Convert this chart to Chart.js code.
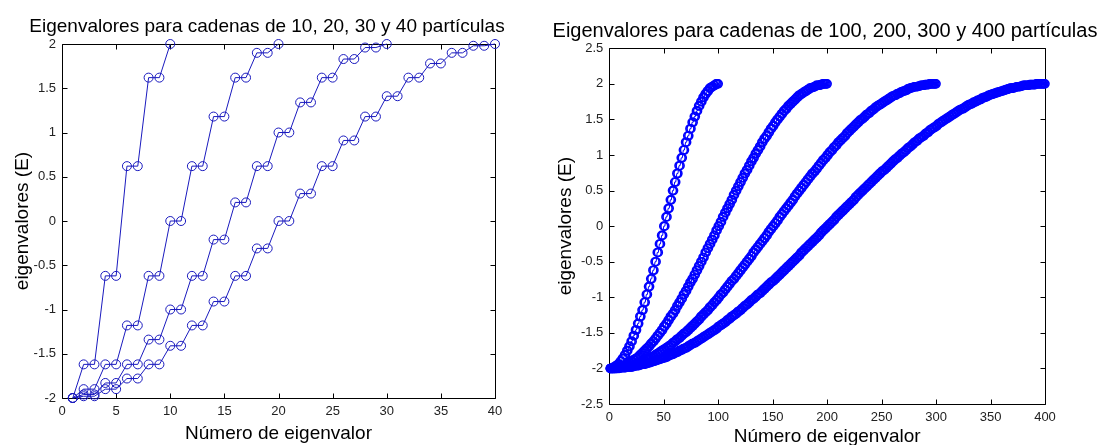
<!DOCTYPE html>
<html>
<head>
<meta charset="utf-8">
<script src="https://cdn.jsdelivr.net/npm/chart.js@4.4.1/dist/chart.umd.min.js"></script>
<style>
  body { margin: 0; background: #fff; }
  #left { position: absolute; left: 0; top: 0; }
  #right { position: absolute; left: 545px; top: 0; }
</style>
</head>
<body>
<canvas id="left" width="545" height="445"></canvas>
<canvas id="right" width="554" height="445"></canvas>
<script>
// eigenvalues, chains of 10, 20, 30, 40 particles (left panel)
const n10 = [-2, -1.62, -1.62, -0.62, -0.62, 0.62, 0.62, 1.62, 1.62, 2];
const n20 = [-2, -1.9, -1.9, -1.62, -1.62, -1.18, -1.18, -0.62, -0.62, 0, 0,
  0.62, 0.62, 1.18, 1.18, 1.62, 1.62, 1.9, 1.9, 2];
const n30 = [-2, -1.96, -1.96, -1.83, -1.83, -1.62, -1.62, -1.34, -1.34, -1, -1,
  -0.62, -0.62, -0.21, -0.21, 0.21, 0.21, 0.62, 0.62, 1, 1, 1.34, 1.34,
  1.62, 1.62, 1.83, 1.83, 1.96, 1.96, 2];
const n40 = [-2, -1.98, -1.98, -1.9, -1.9, -1.78, -1.78, -1.62, -1.62, -1.41, -1.41,
  -1.18, -1.18, -0.91, -0.91, -0.62, -0.62, -0.31, -0.31, 0, 0, 0.31, 0.31,
  0.62, 0.62, 0.91, 0.91, 1.18, 1.18, 1.41, 1.41, 1.62, 1.62, 1.78, 1.78,
  1.9, 1.9, 1.98, 1.98, 2];

// eigenvalues, chains of 100, 200, 300, 400 particles (right panel)
const n100 = [-2,
  -2,-2, -1.98,-1.98, -1.96,-1.96, -1.94,-1.94, -1.9,-1.9, -1.86,-1.86, -1.81,-1.81, -1.75,-1.75, -1.69,-1.69, -1.62,-1.62,
  -1.54,-1.54, -1.46,-1.46, -1.37,-1.37, -1.27,-1.27, -1.18,-1.18, -1.07,-1.07, -0.96,-0.96, -0.85,-0.85, -0.74,-0.74, -0.62,-0.62,
  -0.5,-0.5, -0.37,-0.37, -0.25,-0.25, -0.13,-0.13, 0,0,
  0.13,0.13, 0.25,0.25, 0.37,0.37, 0.5,0.5, 0.62,0.62, 0.74,0.74, 0.85,0.85, 0.96,0.96, 1.07,1.07, 1.18,1.18,
  1.27,1.27, 1.37,1.37, 1.46,1.46, 1.54,1.54, 1.62,1.62, 1.69,1.69, 1.75,1.75, 1.81,1.81, 1.86,1.86, 1.9,1.9,
  1.94,1.94, 1.96,1.96, 1.98,1.98, 2,2,
  2];

const n200 = [-2,
  -2,-2, -2,-2, -1.99,-1.99, -1.98,-1.98, -1.98,-1.98, -1.96,-1.96, -1.95,-1.95, -1.94,-1.94, -1.92,-1.92, -1.9,-1.9,
  -1.88,-1.88, -1.86,-1.86, -1.84,-1.84, -1.81,-1.81, -1.78,-1.78, -1.75,-1.75, -1.72,-1.72, -1.69,-1.69, -1.65,-1.65, -1.62,-1.62,
  -1.58,-1.58, -1.54,-1.54, -1.5,-1.5, -1.46,-1.46, -1.41,-1.41, -1.37,-1.37, -1.32,-1.32, -1.27,-1.27, -1.23,-1.23, -1.18,-1.18,
  -1.12,-1.12, -1.07,-1.07, -1.02,-1.02, -0.96,-0.96, -0.91,-0.91, -0.85,-0.85, -0.79,-0.79, -0.74,-0.74, -0.68,-0.68, -0.62,-0.62,
  -0.56,-0.56, -0.5,-0.5, -0.44,-0.44, -0.37,-0.37, -0.31,-0.31, -0.25,-0.25, -0.19,-0.19, -0.13,-0.13, -0.06,-0.06, 0,0,
  0.06,0.06, 0.13,0.13, 0.19,0.19, 0.25,0.25, 0.31,0.31, 0.37,0.37, 0.44,0.44, 0.5,0.5, 0.56,0.56, 0.62,0.62,
  0.68,0.68, 0.74,0.74, 0.79,0.79, 0.85,0.85, 0.91,0.91, 0.96,0.96, 1.02,1.02, 1.07,1.07, 1.12,1.12, 1.18,1.18,
  1.23,1.23, 1.27,1.27, 1.32,1.32, 1.37,1.37, 1.41,1.41, 1.46,1.46, 1.5,1.5, 1.54,1.54, 1.58,1.58, 1.62,1.62,
  1.65,1.65, 1.69,1.69, 1.72,1.72, 1.75,1.75, 1.78,1.78, 1.81,1.81, 1.84,1.84, 1.86,1.86, 1.88,1.88, 1.9,1.9,
  1.92,1.92, 1.94,1.94, 1.95,1.95, 1.96,1.96, 1.98,1.98, 1.98,1.98, 1.99,1.99, 2,2, 2,2,
  2];

const n300 = [-2,
  -2,-2, -2,-2, -2,-2, -1.99,-1.99, -1.99,-1.99, -1.98,-1.98, -1.98,-1.98, -1.97,-1.97, -1.96,-1.96, -1.96,-1.96,
  -1.95,-1.95, -1.94,-1.94, -1.93,-1.93, -1.91,-1.91, -1.9,-1.9, -1.89,-1.89, -1.87,-1.87, -1.86,-1.86, -1.84,-1.84, -1.83,-1.83,
  -1.81,-1.81, -1.79,-1.79, -1.77,-1.77, -1.75,-1.75, -1.73,-1.73, -1.71,-1.71, -1.69,-1.69, -1.67,-1.67, -1.64,-1.64, -1.62,-1.62,
  -1.59,-1.59, -1.57,-1.57, -1.54,-1.54, -1.51,-1.51, -1.49,-1.49, -1.46,-1.46, -1.43,-1.43, -1.4,-1.4, -1.37,-1.37, -1.34,-1.34,
  -1.31,-1.31, -1.27,-1.27, -1.24,-1.24, -1.21,-1.21, -1.18,-1.18, -1.14,-1.14, -1.11,-1.11, -1.07,-1.07, -1.04,-1.04, -1,-1,
  -0.96,-0.96, -0.93,-0.93, -0.89,-0.89, -0.85,-0.85, -0.81,-0.81, -0.77,-0.77, -0.74,-0.74, -0.7,-0.7, -0.66,-0.66, -0.62,-0.62,
  -0.58,-0.58, -0.54,-0.54, -0.5,-0.5, -0.46,-0.46, -0.42,-0.42, -0.37,-0.37, -0.33,-0.33, -0.29,-0.29, -0.25,-0.25, -0.21,-0.21,
  -0.17,-0.17, -0.13,-0.13, -0.08,-0.08, -0.04,-0.04, 0,0,
  0.04,0.04, 0.08,0.08, 0.13,0.13, 0.17,0.17, 0.21,0.21, 0.25,0.25, 0.29,0.29, 0.33,0.33, 0.37,0.37, 0.42,0.42,
  0.46,0.46, 0.5,0.5, 0.54,0.54, 0.58,0.58, 0.62,0.62, 0.66,0.66, 0.7,0.7, 0.74,0.74, 0.77,0.77, 0.81,0.81,
  0.85,0.85, 0.89,0.89, 0.93,0.93, 0.96,0.96, 1,1, 1.04,1.04, 1.07,1.07, 1.11,1.11, 1.14,1.14, 1.18,1.18,
  1.21,1.21, 1.24,1.24, 1.27,1.27, 1.31,1.31, 1.34,1.34, 1.37,1.37, 1.4,1.4, 1.43,1.43, 1.46,1.46, 1.49,1.49,
  1.51,1.51, 1.54,1.54, 1.57,1.57, 1.59,1.59, 1.62,1.62, 1.64,1.64, 1.67,1.67, 1.69,1.69, 1.71,1.71, 1.73,1.73,
  1.75,1.75, 1.77,1.77, 1.79,1.79, 1.81,1.81, 1.83,1.83, 1.84,1.84, 1.86,1.86, 1.87,1.87, 1.89,1.89, 1.9,1.9,
  1.91,1.91, 1.93,1.93, 1.94,1.94, 1.95,1.95, 1.96,1.96, 1.96,1.96, 1.97,1.97, 1.98,1.98, 1.98,1.98, 1.99,1.99,
  1.99,1.99, 2,2, 2,2, 2,2,
  2];

const n400 = [-2,
  -2,-2, -2,-2, -2,-2, -2,-2, -1.99,-1.99, -1.99,-1.99, -1.99,-1.99, -1.98,-1.98, -1.98,-1.98, -1.98,-1.98,
  -1.97,-1.97, -1.96,-1.96, -1.96,-1.96, -1.95,-1.95, -1.94,-1.94, -1.94,-1.94, -1.93,-1.93, -1.92,-1.92, -1.91,-1.91, -1.9,-1.9,
  -1.89,-1.89, -1.88,-1.88, -1.87,-1.87, -1.86,-1.86, -1.85,-1.85, -1.84,-1.84, -1.82,-1.82, -1.81,-1.81, -1.8,-1.8, -1.78,-1.78,
  -1.77,-1.77, -1.75,-1.75, -1.74,-1.74, -1.72,-1.72, -1.71,-1.71, -1.69,-1.69, -1.67,-1.67, -1.65,-1.65, -1.64,-1.64, -1.62,-1.62,
  -1.6,-1.6, -1.58,-1.58, -1.56,-1.56, -1.54,-1.54, -1.52,-1.52, -1.5,-1.5, -1.48,-1.48, -1.46,-1.46, -1.44,-1.44, -1.41,-1.41,
  -1.39,-1.39, -1.37,-1.37, -1.35,-1.35, -1.32,-1.32, -1.3,-1.3, -1.27,-1.27, -1.25,-1.25, -1.23,-1.23, -1.2,-1.2, -1.18,-1.18,
  -1.15,-1.15, -1.12,-1.12, -1.1,-1.1, -1.07,-1.07, -1.04,-1.04, -1.02,-1.02, -0.99,-0.99, -0.96,-0.96, -0.94,-0.94, -0.91,-0.91,
  -0.88,-0.88, -0.85,-0.85, -0.82,-0.82, -0.79,-0.79, -0.77,-0.77, -0.74,-0.74, -0.71,-0.71, -0.68,-0.68, -0.65,-0.65, -0.62,-0.62,
  -0.59,-0.59, -0.56,-0.56, -0.53,-0.53, -0.5,-0.5, -0.47,-0.47, -0.44,-0.44, -0.41,-0.41, -0.37,-0.37, -0.34,-0.34, -0.31,-0.31,
  -0.28,-0.28, -0.25,-0.25, -0.22,-0.22, -0.19,-0.19, -0.16,-0.16, -0.13,-0.13, -0.09,-0.09, -0.06,-0.06, -0.03,-0.03, 0,0,
  0.03,0.03, 0.06,0.06, 0.09,0.09, 0.13,0.13, 0.16,0.16, 0.19,0.19, 0.22,0.22, 0.25,0.25, 0.28,0.28, 0.31,0.31,
  0.34,0.34, 0.37,0.37, 0.41,0.41, 0.44,0.44, 0.47,0.47, 0.5,0.5, 0.53,0.53, 0.56,0.56, 0.59,0.59, 0.62,0.62,
  0.65,0.65, 0.68,0.68, 0.71,0.71, 0.74,0.74, 0.77,0.77, 0.79,0.79, 0.82,0.82, 0.85,0.85, 0.88,0.88, 0.91,0.91,
  0.94,0.94, 0.96,0.96, 0.99,0.99, 1.02,1.02, 1.04,1.04, 1.07,1.07, 1.1,1.1, 1.12,1.12, 1.15,1.15, 1.18,1.18,
  1.2,1.2, 1.23,1.23, 1.25,1.25, 1.27,1.27, 1.3,1.3, 1.32,1.32, 1.35,1.35, 1.37,1.37, 1.39,1.39, 1.41,1.41,
  1.44,1.44, 1.46,1.46, 1.48,1.48, 1.5,1.5, 1.52,1.52, 1.54,1.54, 1.56,1.56, 1.58,1.58, 1.6,1.6, 1.62,1.62,
  1.64,1.64, 1.65,1.65, 1.67,1.67, 1.69,1.69, 1.71,1.71, 1.72,1.72, 1.74,1.74, 1.75,1.75, 1.77,1.77, 1.78,1.78,
  1.8,1.8, 1.81,1.81, 1.82,1.82, 1.84,1.84, 1.85,1.85, 1.86,1.86, 1.87,1.87, 1.88,1.88, 1.89,1.89, 1.9,1.9,
  1.91,1.91, 1.92,1.92, 1.93,1.93, 1.94,1.94, 1.94,1.94, 1.95,1.95, 1.96,1.96, 1.96,1.96, 1.97,1.97, 1.98,1.98,
  1.98,1.98, 1.98,1.98, 1.99,1.99, 1.99,1.99, 1.99,1.99, 2,2, 2,2, 2,2, 2,2,
  2];

const leftTicksX = [0, 40, 5];
const leftTicksY = [-2, 2, 0.5];
const rightTicksX = [0, 400, 50];
const rightTicksY = [-2.5, 2.5, 0.5];

const FONT = "'Liberation Sans', Arial, sans-serif";
Chart.defaults.font.family = FONT;
Chart.defaults.color = '#222';

// x = eigenvalue number (1..N)
function pts(arr) {
  return arr.map((v, i) => ({ x: i + 1, y: v }));
}

// matlab style box with inward ticks on all four sides
const boxTicks = {
  id: 'boxTicks',
  beforeDatasetsDraw(chart) {
    const { ctx, chartArea: a, scales: { x, y } } = chart;
    const L = Math.round(a.left) + 0.5, R = Math.round(a.right) + 0.5;
    const T = Math.round(a.top) + 0.5, B = Math.round(a.bottom) + 0.5;
    ctx.save();
    ctx.strokeStyle = '#000';
    ctx.lineWidth = 1;
    ctx.beginPath();
    ctx.rect(L, T, R - L, B - T);
    x.ticks.forEach(t => {
      const px = Math.round(x.getPixelForValue(t.value)) + 0.5;
      ctx.moveTo(px, B); ctx.lineTo(px, B - 5);
      ctx.moveTo(px, T); ctx.lineTo(px, T + 5);
    });
    y.ticks.forEach(t => {
      const py = Math.round(y.getPixelForValue(t.value)) + 0.5;
      ctx.moveTo(L, py); ctx.lineTo(L + 5, py);
      ctx.moveTo(R, py); ctx.lineTo(R - 5, py);
    });
    ctx.stroke();
    ctx.restore();
  }
};

// figure title, placed like the matlab one (not restricted to the canvas layout box)
const figTitle = {
  id: 'figTitle',
  afterDraw(chart, args, o) {
    const ctx = chart.ctx;
    ctx.save();
    ctx.font = o.size + 'px ' + FONT;
    ctx.fillStyle = '#000';
    ctx.textAlign = 'center';
    ctx.textBaseline = 'alphabetic';
    ctx.fillText(o.text, o.x, o.y);
    ctx.restore();
  }
};

function makeSet(arr, color, r, bw) {
  return {
    data: pts(arr),
    borderColor: color,
    borderWidth: 1,
    pointRadius: r,
    pointBorderWidth: bw,
    pointBorderColor: color,
    pointBackgroundColor: 'rgba(0,0,0,0)',
    pointStyle: 'circle',
    tension: 0,
    clip: false
  };
}

function makeOpts(title, tx, ty, cfg) {
  return {
    responsive: false,
    animation: false,
    events: [],
    layout: { padding: { top: cfg.padTop, right: cfg.padRight, bottom: 0, left: 0 } },
    plugins: {
      legend: { display: false },
      tooltip: { enabled: false },
      title: { display: false },
      figTitle: { text: title, size: cfg.titleSize, x: cfg.titleX, y: cfg.titleY }
    },
    scales: {
      x: {
        type: 'linear', min: tx[0], max: tx[1],
        grid: { display: false, drawTicks: false },
        border: { display: false },
        ticks: { stepSize: tx[2], padding: 6, font: { size: 13 }, maxRotation: 0, autoSkip: false },
        title: { display: true, text: 'Número de eigenvalor', color: '#000', font: { size: 19 }, padding: { top: 0, bottom: cfg.xTitlePad } },
        afterFit(s) { s.height = cfg.xHeight; }
      },
      y: {
        type: 'linear', min: ty[0], max: ty[1],
        grid: { display: false, drawTicks: false },
        border: { display: false },
        ticks: { stepSize: ty[2], padding: 6, font: { size: 13 }, callback: v => String(v) },
        title: { display: true, text: 'eigenvalores (E)', color: '#000', font: { size: 19 }, padding: { top: cfg.yTitlePad, bottom: 0 } },
        afterFit(s) { s.width = cfg.yWidth; }
      }
    }
  };
}

const blueL = '#1a1abe';
const blueR = '#0000ff';

new Chart(document.getElementById('left'), {
  type: 'line',
  data: {
    datasets: [
      makeSet(n10, blueL, 4.5, 1),
      makeSet(n20, blueL, 4.5, 1),
      makeSet(n30, blueL, 4.5, 1),
      makeSet(n40, blueL, 4.5, 1)
    ]
  },
  options: makeOpts('Eigenvalores para cadenas de 10, 20, 30 y 40 partículas', leftTicksX, leftTicksY,
    { padTop: 44, padRight: 50, titleSize: 19, titleX: 267, titleY: 32,
      xHeight: 47, xTitlePad: 0, yWidth: 62, yTitlePad: 11 }),
  plugins: [boxTicks, figTitle]
});

new Chart(document.getElementById('right'), {
  type: 'line',
  data: {
    datasets: [
      makeSet(n100, blueR, 4, 1.6),
      makeSet(n200, blueR, 4, 1.6),
      makeSet(n300, blueR, 4, 1.6),
      makeSet(n400, blueR, 4, 1.6)
    ]
  },
  options: makeOpts('Eigenvalores para cadenas de 100, 200, 300 y 400 partículas', rightTicksX, rightTicksY,
    { padTop: 48.3, padRight: 54, titleSize: 20, titleX: 280, titleY: 37,
      xHeight: 41, xTitlePad: -3, yWidth: 64.3, yTitlePad: 9 }),
  plugins: [boxTicks, figTitle]
});
</script>
</body>
</html>
